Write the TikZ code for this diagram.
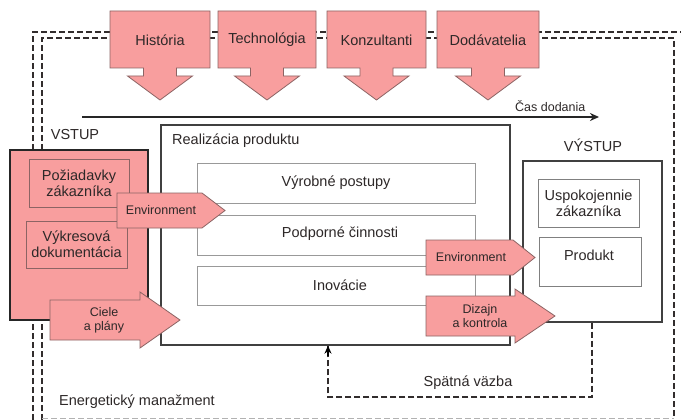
\documentclass[tikz,border=0pt]{standalone}
\usepackage{fontspec}
\setmainfont{Liberation Sans}
\usetikzlibrary{arrows.meta}
\definecolor{pinkc}{RGB}{248,158,158}
\definecolor{pinkedge}{RGB}{140,100,100}
\definecolor{txt}{RGB}{45,40,40}
\definecolor{dashc}{RGB}{50,45,45}
\tikzset{
  pinkshape/.style={fill=pinkc, draw=pinkedge, line width=0.8pt},
  lbl/.style={text=txt, font=\fontsize{14.5}{16}\selectfont, inner sep=0pt, align=center},
  slbl/.style={text=txt, font=\fontsize{12.5}{14}\selectfont, inner sep=0pt, align=center},
  frame/.style={draw=dashc, line width=1.3pt, dash pattern=on 6pt off 3pt},
  graybox/.style={draw=black!40, line width=0.9pt},
  darkbox/.style={draw=black!75, line width=1.3pt},
}
\newcommand\toparrow[4]{%
  \path[pinkshape] (#1,11) -- (#2,11) -- (#2,68) -- ({(#1+#2)/2+16.5},68) -- ({(#1+#2)/2+16.5},76)
    -- ({(#1+#2)/2+32.5},76) -- ({(#1+#2)/2},100) -- ({(#1+#2)/2-32.5},76) -- ({(#1+#2)/2-16.5},76)
    -- ({(#1+#2)/2-16.5},68) -- (#1,68) -- cycle;
  \node[lbl] (#3) at ({(#1+#2)/2},40) {#4};}
\begin{document}
\begin{tikzpicture}[x=1pt,y=-1pt]
\useasboundingbox (0,0) rectangle (681,420);
\fill[white] (0,0) rectangle (681,420);
% dashed frames
\draw[frame] (33,420) -- (33,32) -- (681,32);
\draw[frame] (42,420) -- (42,38) -- (674,38) -- (674,418);
\draw[draw=black!30, line width=1pt, dash pattern=on 6pt off 3pt] (42,418) -- (674,418);
% top arrows
\toparrow{110}{210}{hist}{História}
\toparrow{218}{316}{tech}{Technológia}
\toparrow{327}{426}{konz}{Konzultanti}
\toparrow{437}{539}{dod}{Dodávatelia}
% time axis
\coordinate (t0) at (82,117);
\coordinate (t1) at (599,117);
\draw[line width=1.8pt, draw=black!85, -{Stealth[length=9pt,width=8pt]}] (t0) -- (t1);
\node[slbl, anchor=west] (cas) at (515,106) {Čas dodania};
% labels
\node[lbl] (vstup) at (75,135) {VSTUP};
\node[lbl] (vystup) at (593,145) {VÝSTUP};
% left box
\node[draw=black!85, line width=1.4pt, fill=pinkc, minimum width=138pt, minimum height=170pt, inner sep=0pt] (left) at (79,235) {};
\node[draw=pinkedge, line width=0.9pt, minimum width=100pt, minimum height=48pt, lbl] (poz) at (79,183) {Požiadavky\\zákazníka};
\node[draw=pinkedge, line width=0.9pt, minimum width=101pt, minimum height=47pt, lbl] (vyk) at (76.5,244.5) {Výkresová\\dokumentácia};
% realization box
\node[darkbox, minimum width=349pt, minimum height=220pt, inner sep=0pt] (real) at (335.5,235) {};
\node[lbl, anchor=west] (reallbl) at (172,141) {Realizácia produktu};
\node[graybox, minimum width=278pt, minimum height=40pt, lbl] (vp) at (336,183) {Výrobné postupy};
\node[graybox, minimum width=278pt, minimum height=40pt] (pc) at (336,235) {};
\node[lbl] (pclbl) at (340,234) {Podporné činnosti};
\node[graybox, minimum width=278pt, minimum height=39pt] (ino) at (336,285.5) {};
\node[lbl] (inolbl) at (340,285) {Inovácie};
% output box
\node[darkbox, minimum width=139pt, minimum height=161pt, inner sep=0pt] (out) at (592.5,241.5) {};
\node[draw=black!50, line width=0.9pt, minimum width=101pt, minimum height=48pt, lbl] (usp) at (588.5,203) {Uspokojennie\\zákazníka};
\node[draw=black!50, line width=0.9pt, minimum width=102pt, minimum height=49pt] (prod) at (590,261.5) {};
\node[lbl] (prodlbl) at (589,255) {Produkt};
% pink arrows
\path[pinkshape] (117,193) -- (202,193) -- (225,210.5) -- (202,228) -- (117,228) -- cycle;
\node[slbl] (env1) at (161,210.5) {Environment};
\path[pinkshape] (50,300) -- (140,300) -- (140,292) -- (180,320) -- (140,348) -- (140,340) -- (50,340) -- cycle;
\node[slbl] (ciele) at (104,320) {Ciele\\a plány};
\path[pinkshape] (426,240) -- (513,240) -- (535,257.5) -- (513,275) -- (426,275) -- cycle;
\node[slbl] (env2) at (471,257.5) {Environment};
\path[pinkshape] (426,296) -- (515,296) -- (515,289) -- (555,316) -- (515,343) -- (515,336) -- (426,336) -- cycle;
\node[slbl] (diz) at (480,316) {Dizajn\\a kontrola};
% feedback
\coordinate (fb1) at (592,397);
\coordinate (fb2) at (328,397);
\draw[draw=dashc, line width=1.3pt, dash pattern=on 6pt off 3pt] (out.south -| fb1) -- (fb1) -- (fb2) -- (fb2 |- real.south);
\draw[draw=black, line width=1.3pt, -{Stealth[length=8pt,width=7pt]}] (328,356) -- (real.south -| fb2);
\node[lbl] (spat) at (468,383) {Spätná väzba};
\node[lbl, anchor=west] (energ) at (59,402) {Energetický manažment};
\end{tikzpicture}
\end{document}
